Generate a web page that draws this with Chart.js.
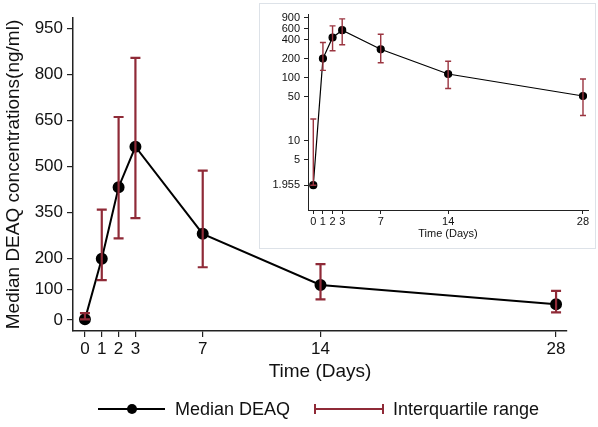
<!DOCTYPE html>
<html>
<head>
<meta charset="utf-8">
<script src="https://cdn.jsdelivr.net/npm/chart.js@4"></script>
<style>
  body { margin: 0; background: #fff; font-family: "Liberation Sans", Arial, sans-serif; }
  #wrap { position: relative; width: 598px; height: 427px; }
  #inset { position: absolute; left: 259px; top: 3px; width: 335px; height: 244px; border: 1px solid #dde2e8; background: #fff; }
  .leg { position: absolute; top: 398px; font-size: 18px; color: #111; line-height: 22px; }
  .sym { position: absolute; }
</style>
</head>
<body>
<div id="wrap">
  <canvas id="mainChart" width="598" height="427"></canvas>
  <div id="inset"><canvas id="insetChart" width="335" height="244"></canvas></div>
  <svg class="sym" style="left:96px;top:399px" width="72" height="20">
    <line x1="2" y1="10" x2="69" y2="10" stroke="#000" stroke-width="2"/>
    <circle cx="36" cy="10" r="5" fill="#000"/>
  </svg>
  <span class="leg" style="left:175px">Median DEAQ</span>
  <svg class="sym" style="left:313px;top:399px" width="72" height="20">
    <line x1="2" y1="10" x2="70" y2="10" stroke="#8f2a37" stroke-width="2"/>
    <line x1="2" y1="5" x2="2" y2="15" stroke="#8f2a37" stroke-width="2"/>
    <line x1="70" y1="5" x2="70" y2="15" stroke="#8f2a37" stroke-width="2"/>
  </svg>
  <span class="leg" style="left:393px">Interquartile range</span>
</div>
<script>
const days = [0, 1, 2, 3, 7, 14, 28];
const medianDEAQ = [1.955, 200, 433, 565, 281, 114, 51];
const iqrLow = [1.955, 130, 266, 332, 172, 67, 25];
const iqrHigh = [22, 360, 662, 855, 487, 182, 95];
const mainYTicks = [0, 100, 200, 350, 500, 650, 800, 950];
const insetYTicks = [1.955, 5, 10, 50, 100, 200, 400, 600, 900];

const points = days.map((d, i) => ({ x: d, y: medianDEAQ[i] }));

// draws the interquartile range whiskers on top of the line
const iqrBars = {
  id: 'iqrBars',
  afterDatasetsDraw(chart, args, opts) {
    const { ctx, scales: { x, y } } = chart;
    ctx.save();
    ctx.strokeStyle = opts.color;
    ctx.lineWidth = opts.width;
    days.forEach((d, i) => {
      const px = x.getPixelForValue(d);
      const top = y.getPixelForValue(iqrHigh[i]);
      const bot = y.getPixelForValue(iqrLow[i]);
      ctx.beginPath();
      ctx.moveTo(px, top); ctx.lineTo(px, bot);
      ctx.moveTo(px - opts.cap, top); ctx.lineTo(px + opts.cap, top);
      ctx.moveTo(px - opts.cap, bot); ctx.lineTo(px + opts.cap, bot);
      ctx.stroke();
    });
    ctx.restore();
  }
};

const fixTicks = list => scale => { scale.ticks = list.map(v => ({ value: v })); };
const family = '"Liberation Sans", Arial, sans-serif';

new Chart(document.getElementById('mainChart'), {
  type: 'line',
  data: {
    datasets: [{
      data: points,
      borderColor: '#000',
      borderWidth: 2,
      backgroundColor: '#000',
      pointRadius: 5,
      tension: 0
    }]
  },
  plugins: [iqrBars],
  options: {
    responsive: false,
    animation: false,
    devicePixelRatio: 1,
    layout: { padding: { top: 18, right: 31, bottom: 40, left: 0 } },
    plugins: {
      legend: { display: false },
      tooltip: { enabled: false },
      iqrBars: { color: '#8f2a37', width: 2.2, cap: 5 }
    },
    scales: {
      x: {
        type: 'linear', min: -0.71, max: 28.65,
        afterBuildTicks: fixTicks(days),
        afterFit: s => { s.height = 56; },
        grid: { drawOnChartArea: false, tickLength: 6, color: '#222', lineWidth: 1.2 },
        border: { color: '#222', width: 1.5 },
        ticks: { color: '#111', font: { family, size: 17 }, padding: 2, maxRotation: 0, autoSkip: false },
        title: { display: true, text: 'Time (Days)', color: '#111', font: { family, size: 19 }, padding: { top: 0, bottom: 4 } }
      },
      y: {
        type: 'linear', min: -36, max: 985,
        afterBuildTicks: fixTicks(mainYTicks),
        afterFit: s => { s.width = 73; },
        grid: { drawOnChartArea: false, tickLength: 6, color: '#222', lineWidth: 1.2 },
        border: { color: '#222', width: 1.5 },
        ticks: { color: '#111', font: { family, size: 17 }, padding: 4, callback: v => String(v) },
        title: { display: true, text: 'Median DEAQ concentrations(ng/ml)', color: '#111', font: { family, size: 19 }, padding: { top: 2, bottom: 0 } }
      }
    }
  }
});

new Chart(document.getElementById('insetChart'), {
  type: 'line',
  data: {
    datasets: [{
      data: points,
      borderColor: '#000',
      borderWidth: 1.2,
      backgroundColor: '#000',
      pointRadius: 3.5,
      tension: 0
    }]
  },
  plugins: [iqrBars],
  options: {
    responsive: false,
    animation: false,
    devicePixelRatio: 1,
    layout: { padding: { top: 10, right: 7, bottom: 0, left: 0 } },
    plugins: {
      legend: { display: false },
      tooltip: { enabled: false },
      iqrBars: { color: '#9b3540', width: 1.4, cap: 3 }
    },
    scales: {
      x: {
        type: 'linear', min: -0.55, max: 28.52,
        afterBuildTicks: fixTicks(days),
        afterFit: s => { s.height = 38; },
        grid: { drawOnChartArea: false, tickLength: 4, color: '#222' },
        border: { color: '#222', width: 1 },
        ticks: { color: '#111', font: { family, size: 11 }, padding: 1, maxRotation: 0, autoSkip: false },
        title: { display: true, text: 'Time (Days)', color: '#111', font: { family, size: 11 }, padding: { top: 0, bottom: 7 } }
      },
      y: {
        type: 'logarithmic', min: 0.79, max: 1000,
        afterBuildTicks: fixTicks(insetYTicks),
        afterFit: s => { s.width = 48; },
        grid: { drawOnChartArea: false, tickLength: 4, color: '#222' },
        border: { color: '#222', width: 1 },
        ticks: { color: '#111', font: { family, size: 11 }, padding: 4, callback: v => String(v) }
      }
    }
  }
});
</script>
</body>
</html>
